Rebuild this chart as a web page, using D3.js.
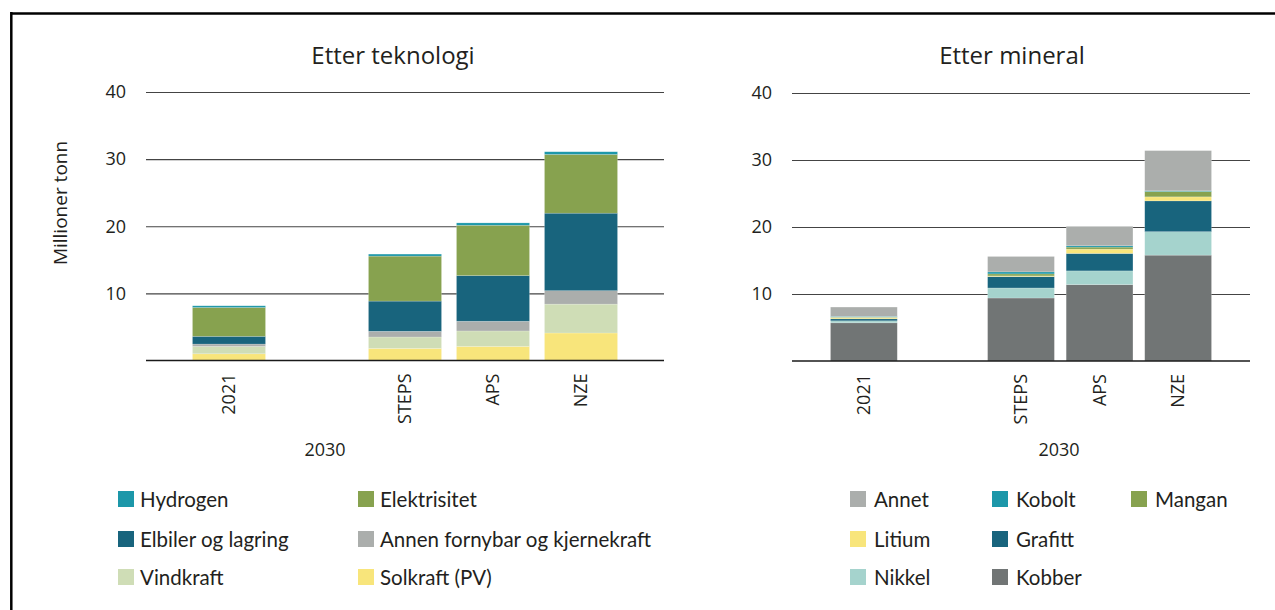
<!DOCTYPE html>
<html>
<head>
<meta charset="utf-8">
<script src="https://cdn.jsdelivr.net/npm/d3@7/dist/d3.min.js"></script>
<style>
  html, body { margin: 0; padding: 0; background: #fff; }
  svg { display: block; font-family: "Open Sans", "Noto Sans", sans-serif; }
</style>
</head>
<body>
<svg id="chart" width="1275" height="610"></svg>
<script>
// Categories (2021 and the three 2030 scenarios)
const categories = ["2021", "STEPS", "APS", "NZE"];
const yTicks = [10, 20, 30, 40];

// Mineral demand by technology, million tonnes
const solkraft      = [1.0, 1.8, 2.1, 4.1];
const vindkraft     = [1.1, 1.7, 2.3, 4.3];
const annenFornybar = [0.35, 0.85, 1.45, 2.0];
const elbiler       = [1.15, 4.5, 6.8, 11.55];
const elektrisitet  = [4.3, 6.7, 7.5, 8.75];
const hydrogen      = [0.25, 0.3, 0.35, 0.4];

// Mineral demand by mineral, million tonnes
const kobber  = [5.7, 9.4, 11.4, 15.8];
const nikkel  = [0.3, 1.5, 2.05, 3.5];
const grafitt = [0.3, 1.7, 2.6, 4.6];
const litium  = [0.2, 0.1, 0.65, 0.6];
const mangan  = [0.05, 0.3, 0.3, 0.8];
const kobolt  = [0.1, 0.3, 0.2, 0.1];
const annet   = [1.4, 2.3, 2.9, 6.0];

const C = {
  teal: "#1c97a9", green: "#87a24f", navy: "#18647d", grey: "#abaeac",
  pale: "#cfddb6", yellow: "#f8e57b", mint: "#a5d3cd", dark: "#717575"
};

const techSeries = [
  { name: "Solkraft (PV)", values: solkraft, color: C.yellow },
  { name: "Vindkraft", values: vindkraft, color: C.pale },
  { name: "Annen fornybar og kjernekraft", values: annenFornybar, color: C.grey },
  { name: "Elbiler og lagring", values: elbiler, color: C.navy },
  { name: "Elektrisitet", values: elektrisitet, color: C.green },
  { name: "Hydrogen", values: hydrogen, color: C.teal }
];
const mineralSeries = [
  { name: "Kobber", values: kobber, color: C.dark },
  { name: "Nikkel", values: nikkel, color: C.mint },
  { name: "Grafitt", values: grafitt, color: C.navy },
  { name: "Litium", values: litium, color: C.yellow },
  { name: "Mangan", values: mangan, color: C.green },
  { name: "Kobolt", values: kobolt, color: C.teal },
  { name: "Annet", values: annet, color: C.grey }
];

const techLegend = [
  ["Hydrogen", "Elektrisitet"],
  ["Elbiler og lagring", "Annen fornybar og kjernekraft"],
  ["Vindkraft", "Solkraft (PV)"]
];
const mineralLegend = [
  ["Annet", "Kobolt", "Mangan"],
  ["Litium", "Grafitt"],
  ["Nikkel", "Kobber"]
];

const svg = d3.select("#chart");
const textColor = "#231f20";

// outer frame (top and left edges)
svg.append("line").attr("x1", 11).attr("x2", 1275).attr("y1", 13.5).attr("y2", 13.5)
  .attr("stroke", "#000").attr("stroke-width", 2.5);
svg.append("line").attr("x1", 11.3).attr("x2", 11.3).attr("y1", 12).attr("y2", 610)
  .attr("stroke", "#000").attr("stroke-width", 2.5);

function panel(opt) {
  const g = svg.append("g");
  const domain = [categories[0], "gap", ...categories.slice(1)];
  const x = d3.scaleBand().domain(domain).range([opt.x0, opt.x1])
    .paddingInner(opt.padIn).paddingOuter(opt.padOut);
  const y = d3.scaleLinear().domain([0, 40]).range([opt.yBase, opt.yTop]);

  // gridlines + tick labels
  const axis = d3.axisLeft(y).tickValues(yTicks).tickSize(-(opt.x1 - opt.x0)).tickPadding(20);
  const ag = g.append("g").attr("transform", `translate(${opt.x0},0)`).call(axis);
  ag.select(".domain").remove();
  ag.selectAll(".tick line").attr("stroke", "#444").attr("stroke-width", 1.2);
  ag.selectAll(".tick text").attr("fill", textColor).style("font-size", "18px")
    .style("font-family", "'Open Sans', sans-serif");

  // stacked bars
  const rows = categories.map((c, i) => {
    const r = { cat: c };
    opt.series.forEach(s => r[s.name] = s.values[i]);
    return r;
  });
  const stack = d3.stack().keys(opt.series.map(s => s.name))(rows);
  stack.forEach((layer, li) => {
    g.append("g").attr("fill", opt.series[li].color)
      .selectAll("rect").data(layer).join("rect")
      .attr("x", d => x(d.data.cat))
      .attr("width", x.bandwidth())
      .attr("y", d => y(d[1]))
      .attr("height", d => y(d[0]) - y(d[1]))
      .attr("stroke", "rgba(255,255,255,0.3)").attr("stroke-width", 0.6);
  });

  // baseline
  g.append("line").attr("x1", opt.x0).attr("x2", opt.x1)
    .attr("y1", y(0)).attr("y2", y(0)).attr("stroke", "#1a1a1a").attr("stroke-width", 1.6);

  // rotated category labels
  categories.forEach(c => {
    const cx = x(c) + x.bandwidth() / 2;
    g.append("text")
      .attr("transform", `translate(${cx + 6},${y(0) + 13}) rotate(-90)`)
      .attr("text-anchor", "end").attr("fill", textColor)
      .style("font-size", "18px").text(c);
  });
  // group label for the 2030 scenarios
  g.append("text").attr("x", opt.groupX).attr("y", 456).attr("text-anchor", "middle")
    .attr("fill", textColor).style("font-size", "18px").text("2030");

  // panel title
  g.append("text").attr("x", opt.titleX).attr("y", 64).attr("text-anchor", "middle")
    .attr("fill", textColor).style("font-size", "24px").text(opt.title);

  // legend
  const colorOf = Object.fromEntries(opt.series.map(s => [s.name, s.color]));
  opt.legend.forEach((row, ri) => {
    row.forEach((name, ci) => {
      const lx = opt.legendX[ci], ly = opt.legendY[ri];
      g.append("rect").attr("x", lx).attr("y", ly - 8).attr("width", 16).attr("height", 16)
        .attr("fill", colorOf[name]);
      g.append("text").attr("x", lx + opt.legendGap).attr("y", ly + 7.5).attr("fill", textColor)
        .style("font-family", "Lato, sans-serif")
        .style("font-size", "20.5px").text(name);
    });
  });
  return { x, y };
}

panel({
  x0: 146, x1: 664, yBase: 360.5, yTop: 92, padIn: 0.17, padOut: 0.528,
  series: techSeries, title: "Etter teknologi", titleX: 393, groupX: 325,
  legend: techLegend, legendX: [118, 358], legendY: [499, 539, 577], legendGap: 22
});
panel({
  x0: 792, x1: 1250, yBase: 361, yTop: 93, padIn: 0.15, padOut: 0.49,
  series: mineralSeries, title: "Etter mineral", titleX: 1012, groupX: 1059,
  legend: mineralLegend, legendX: [850, 992, 1131], legendY: [499, 539, 577], legendGap: 24
});

// y-axis title
svg.append("text").attr("transform", "translate(67,203) rotate(-90)")
  .attr("text-anchor", "middle").attr("fill", textColor)
  .style("font-size", "19px").text("Millioner tonn");
</script>
</body>
</html>
